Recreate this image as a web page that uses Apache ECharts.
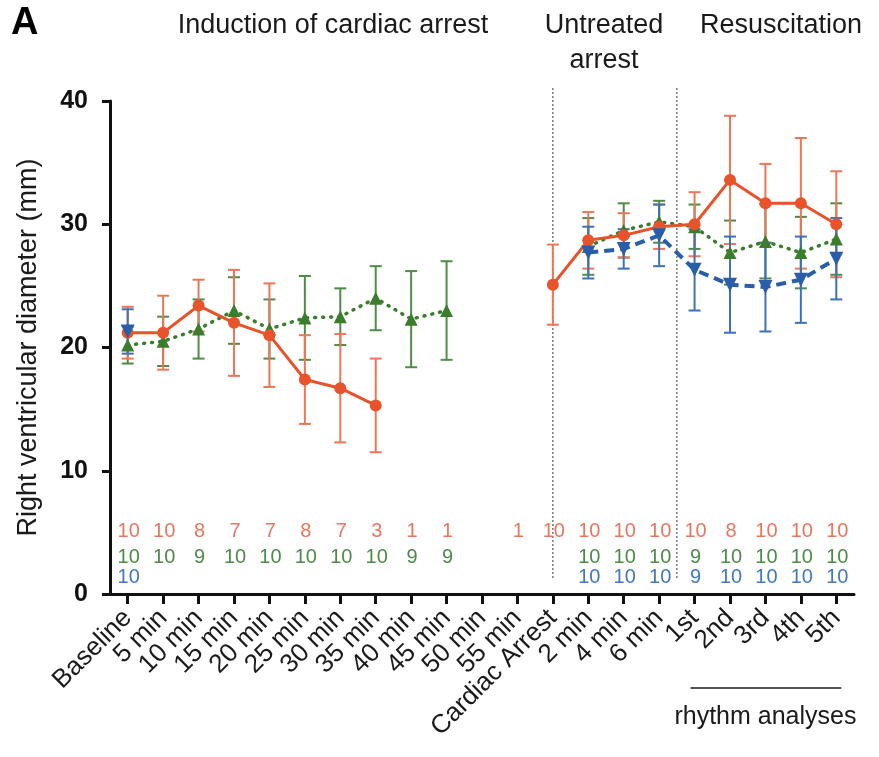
<!DOCTYPE html>
<html>
<head>
<meta charset="utf-8">
<script src="https://cdn.jsdelivr.net/npm/echarts@6/dist/echarts.min.js"></script>
<style>html,body{margin:0;padding:0;background:#fff;}#c{width:879px;height:757px;}</style>
</head>
<body>
<div id="c"></div>
<script>
const categories = ['Baseline','5 min','10 min','15 min','20 min','25 min','30 min','35 min','40 min','45 min','50 min','55 min','Cardiac Arrest','2 min','4 min','6 min','1st','2nd','3rd','4th','5th'];

const redMean = [21.2,21.2,23.4,22.0,21.0,17.4,16.7,15.3,null,null,null,null,25.1,28.7,29.1,29.8,30.0,33.6,31.7,31.7,30.0];
const redSD   = [2.1,3.0,2.1,4.3,4.2,3.6,4.4,3.8,null,null,null,null,3.25,2.3,1.8,1.8,2.6,5.2,3.2,5.3,4.3];

const greenMean = [20.2,20.5,21.5,23.0,21.5,22.4,22.5,24.0,22.3,23.0,null,null,null,28.2,29.5,30.2,29.8,27.7,28.6,27.7,28.8];
const greenSD   = [1.5,2.0,2.4,2.7,2.4,3.4,2.3,2.6,3.9,4.0,null,null,null,2.3,2.2,1.7,1.8,2.6,3.0,2.9,2.9];

const blueMean = [21.3,null,null,null,null,null,null,null,null,null,null,null,null,27.7,28.0,29.1,26.3,25.1,24.9,25.5,27.2];
const blueSD   = [1.8,null,null,null,null,null,null,null,null,null,null,null,null,2.1,1.6,2.5,3.3,3.9,3.6,3.5,3.3];

const redN   = [10,10,8,7,7,8,7,3,1,1,null,1,10,10,10,10,10,8,10,10,10];
const greenN = [10,10,9,10,10,10,10,10,9,9,null,null,null,10,10,10,9,10,10,10,10];
const blueN  = [10,null,null,null,null,null,null,null,null,null,null,null,null,10,10,10,9,10,10,10,10];

const yTicks = [0,10,20,30,40];

const RED = '#e8532b', RED_EB = '#ec7658', RED_TXT = '#e9775f';
const GREEN = '#3b7d2c', GREEN_EB = '#4f8c45', GREEN_TXT = '#4e8a48';
const BLUE = '#2a5ea8', BLUE_EB = '#3b72b8', BLUE_TXT = '#4277c2';

function errData(mean, sd){
  const out = [];
  mean.forEach((m,i)=>{ if(m!=null && sd[i]!=null) out.push([i,m,sd[i]]); });
  return out;
}
function countData(n){
  const out = [];
  n.forEach((v,i)=>{ if(v!=null) out.push([i,v]); });
  return out;
}
function errSeries(mean, sd, color){
  return {
    type:'custom', z:2, silent:true,
    data: errData(mean, sd),
    encode:{x:0,y:1},
    renderItem:function(params, api){
      const x = api.value(0), m = api.value(1), s = api.value(2);
      const t = api.coord([x, m+s]), b = api.coord([x, m-s]);
      const hw = 6;
      const st = {stroke:color, lineWidth:2};
      return {type:'group', children:[
        {type:'line', shape:{x1:t[0],y1:t[1],x2:b[0],y2:b[1]}, style:st},
        {type:'line', shape:{x1:t[0]-hw,y1:t[1],x2:t[0]+hw,y2:t[1]}, style:st},
        {type:'line', shape:{x1:b[0]-hw,y1:b[1],x2:b[0]+hw,y2:b[1]}, style:st}
      ]};
    }
  };
}
function countSeries(n, rowY, color){
  return {
    type:'custom', z:5, silent:true, clip:false,
    data: countData(n),
    encode:{x:0},
    renderItem:function(params, api){
      const p = api.coord([api.value(0), rowY]);
      return {type:'text', x:p[0]+1, y:p[1], style:{text:String(api.value(1)), fill:color, font:'20px "Liberation Sans", Arial, sans-serif', align:'center', verticalAlign:'middle'}};
    }
  };
}

const chart = echarts.init(document.getElementById('c'), null, {renderer:'canvas'});
const FONT = '"Liberation Sans", Arial, sans-serif';

const option = {
  backgroundColor:'#ffffff',
  animation:false,
  grid:{left:110, right:25, top:101, bottom:163, containLabel:false},
  xAxis:{
    type:'category', data:categories, boundaryGap:true,
    axisLine:{show:true, lineStyle:{color:'#111', width:3}},
    axisTick:{show:true, alignWithLabel:true, length:10, lineStyle:{color:'#111', width:3}},
    axisLabel:{interval:0, rotate:45, fontSize:26, color:'#1a1a1a', fontFamily:FONT, margin:20},
    splitLine:{show:false}
  },
  yAxis:{
    type:'value', min:yTicks[0], max:yTicks[yTicks.length-1], interval:10,
    name:'Right ventricular diameter (mm)', nameLocation:'middle', nameGap:68, nameRotate:90,
    nameTextStyle:{fontSize:27, color:'#1a1a1a', fontFamily:FONT},
    axisLine:{show:true, lineStyle:{color:'#111', width:3}},
    axisTick:{show:true, length:8, lineStyle:{color:'#111', width:3}},
    axisLabel:{fontSize:25, fontWeight:'bold', color:'#111', fontFamily:FONT, margin:22},
    splitLine:{show:false}
  },
  series:[
    errSeries(greenMean, greenSD, GREEN_EB),
    errSeries(redMean, redSD, RED_EB),
    errSeries(blueMean, blueSD, BLUE_EB),
    {type:'line', name:'green', data:greenMean, connectNulls:false, z:3,
     symbol:'triangle', symbolSize:13, itemStyle:{color:GREEN},
     lineStyle:{color:GREEN, width:3.5, type:[1,7], cap:'round'}},
    {type:'line', name:'red', data:redMean, connectNulls:false, z:4,
     symbol:'circle', symbolSize:12, itemStyle:{color:RED},
     lineStyle:{color:RED, width:3}},
    {type:'line', name:'blue', data:blueMean, connectNulls:false, z:4,
     symbol:'triangle', symbolRotate:180, symbolSize:14, itemStyle:{color:BLUE},
     lineStyle:{color:BLUE, width:4, type:[10,6]}},
    countSeries(redN, 5.1, RED_TXT),
    countSeries(greenN, 3.0, GREEN_TXT),
    countSeries(blueN, 1.3, BLUE_TXT)
  ]
};
chart.setOption(option);

// decorations positioned from the axes
const xCA = chart.convertToPixel({xAxisIndex:0}, 'Cardiac Arrest');
const x6 = chart.convertToPixel({xAxisIndex:0}, '6 min');
const x1st = chart.convertToPixel({xAxisIndex:0}, '1st');
const x5th = chart.convertToPixel({xAxisIndex:0}, '5th');
const xDiv2 = (x6 + x1st)/2;
const yBot = chart.convertToPixel({yAxisIndex:0}, 1.3);
const dashStyle = {stroke:'#777', lineWidth:1.5, lineDash:[2,2]};

chart.setOption({
  graphic:[
    {type:'line', shape:{x1:xCA, y1:88, x2:xCA, y2:yBot}, style:dashStyle, z:1},
    {type:'line', shape:{x1:xDiv2, y1:88, x2:xDiv2, y2:yBot}, style:dashStyle, z:1},
    {type:'text', left:11, top:5, style:{text:'A', font:'bold 38px '+FONT, fill:'#000'}},
    {type:'text', x:333, y:26, style:{text:'Induction of cardiac arrest', font:'27px '+FONT, fill:'#1a1a1a', align:'center', verticalAlign:'middle'}},
    {type:'text', x:604, y:26, style:{text:'Untreated', font:'27px '+FONT, fill:'#1a1a1a', align:'center', verticalAlign:'middle'}},
    {type:'text', x:604, y:61, style:{text:'arrest', font:'27px '+FONT, fill:'#1a1a1a', align:'center', verticalAlign:'middle'}},
    {type:'text', x:781, y:26, style:{text:'Resuscitation', font:'27px '+FONT, fill:'#1a1a1a', align:'center', verticalAlign:'middle'}},
    {type:'line', shape:{x1:x1st-4, y1:688, x2:x5th+5, y2:688}, style:{stroke:'#555', lineWidth:2}},
    {type:'text', x:(x1st+x5th)/2, y:717, style:{text:'rhythm analyses', font:'25px '+FONT, fill:'#1a1a1a', align:'center', verticalAlign:'middle'}}
  ]
});
</script>
</body>
</html>
